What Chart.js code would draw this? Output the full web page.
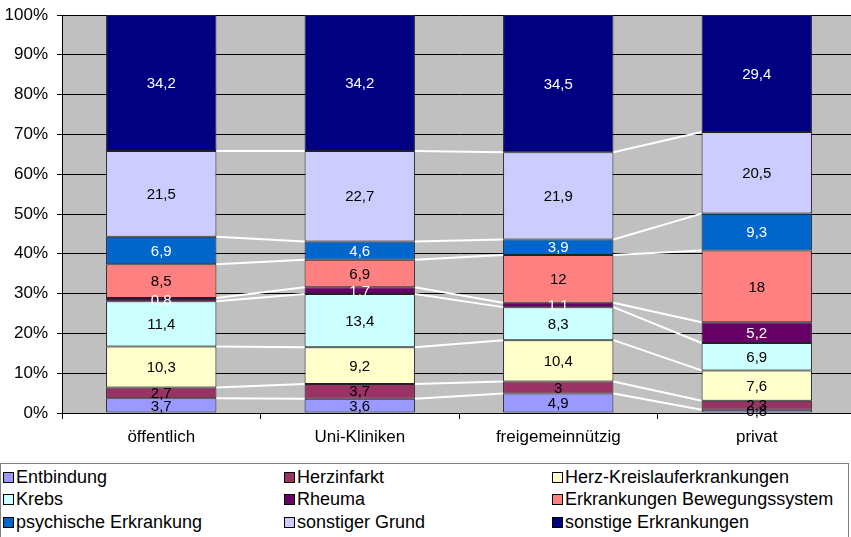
<!DOCTYPE html>
<html>
<head>
<meta charset="utf-8">
<script src="https://cdn.jsdelivr.net/npm/chart.js@4/dist/chart.umd.min.js"></script>
<style>
  html, body { margin: 0; padding: 0; background: #fff; overflow: hidden; width: 851px; height: 537px; }
  #wrap { position: absolute; left: 0; top: 0; width: 856px; height: 463px; }
  #legend { position: absolute; left: 0; top: 463px; width: 847px; height: 80px; border: 1px solid #808080;
            font-family: "Liberation Sans", Arial, sans-serif; font-size: 18px; color: #000; }
  .item { position: absolute; white-space: nowrap; line-height: 20px; height: 20px; }
  .sw { position: absolute; width: 9px; height: 9px; border: 1px solid #000; top: 5px; left: 0; }
  .tx { position: absolute; left: 13px; top: 0; }
</style>
</head>
<body>
<div id="wrap"><canvas id="c" width="856" height="463"></canvas></div>
<div id="legend"></div>
<script>
// ---- data ----
const categories = ["öffentlich", "Uni-Kliniken", "freigemeinnützig", "privat"];
const seriesNames = ["Entbindung", "Herzinfarkt", "Herz-Kreislauferkrankungen", "Krebs", "Rheuma",
  "Erkrankungen Bewegungssystem", "psychische Erkrankung", "sonstiger Grund", "sonstige Erkrankungen"];
const entbindung = [3.7, 3.6, 4.9, 0.8];
const herzinfarkt = [2.7, 3.7, 3.0, 2.3];
const herzKreislauf = [10.3, 9.2, 10.4, 7.6];
const krebs = [11.4, 13.4, 8.3, 6.9];
const rheuma = [0.8, 1.7, 1.1, 5.2];
const bewegungssystem = [8.5, 6.9, 12.0, 18.0];
const psychisch = [6.9, 4.6, 3.9, 9.3];
const sonstigerGrund = [21.5, 22.7, 21.9, 20.5];
const sonstigeErkrankungen = [34.2, 34.2, 34.5, 29.4];
const yTicks = ["0%", "10%", "20%", "30%", "40%", "50%", "60%", "70%", "80%", "90%", "100%"];

// ---- styles ----
const colors = ["#9999FF", "#993366", "#FFFFCC", "#CCFFFF", "#660066", "#FF8080", "#0066CC", "#CCCCFF", "#000080"];
const labelColors = ["#000", "#000", "#000", "#000", "#fff", "#000", "#fff", "#000", "#fff"];
const FONT = '"Liberation Sans", Arial, sans-serif';

const seriesValues = [entbindung, herzinfarkt, herzKreislauf, krebs, rheuma, bewegungssystem, psychisch, sonstigerGrund, sonstigeErkrankungen];

const datasets = seriesNames.map((name, i) => ({
  label: name,
  data: seriesValues[i],
  backgroundColor: colors[i],
  borderColor: "#222",
  borderWidth: 1,
  borderSkipped: false,
  barPercentage: 0.556,
  categoryPercentage: 1.0
}));

const plotBg = {
  id: "plotBg",
  beforeDraw(chart) {
    const a = chart.chartArea, ctx = chart.ctx;
    ctx.save();
    ctx.fillStyle = "#C0C0C0";
    ctx.fillRect(a.left, a.top, a.right - a.left, a.bottom - a.top);
    ctx.restore();
  }
};

const seriesLines = {
  id: "seriesLines",
  afterDatasetsDraw(chart) {
    const ctx = chart.ctx;
    ctx.save();
    ctx.strokeStyle = "#fff";
    ctx.lineWidth = 2;
    for (let d = 0; d < chart.data.datasets.length - 1; d++) {
      const meta = chart.getDatasetMeta(d);
      for (let i = 0; i < meta.data.length - 1; i++) {
        const a = meta.data[i], b = meta.data[i + 1];
        ctx.beginPath();
        ctx.moveTo(a.x + a.width / 2, a.y);
        ctx.lineTo(b.x - b.width / 2, b.y);
        ctx.stroke();
      }
    }
    ctx.restore();
  }
};

const dataLabels = {
  id: "dataLabels",
  afterDatasetsDraw(chart) {
    const ctx = chart.ctx;
    ctx.save();
    ctx.font = "15px " + FONT;
    ctx.textAlign = "center";
    ctx.textBaseline = "middle";
    chart.data.datasets.forEach((ds, d) => {
      const meta = chart.getDatasetMeta(d);
      meta.data.forEach((el, i) => {
        const v = ds.data[i];
        ctx.fillStyle = labelColors[d];
        ctx.fillText(String(v).replace(".", ","), el.x, (el.y + el.base) / 2 + 1);
      });
    });
    ctx.restore();
  }
};

new Chart(document.getElementById("c"), {
  type: "bar",
  data: { labels: categories, datasets },
  options: {
    responsive: false,
    animation: false,
    devicePixelRatio: 1,
    layout: { padding: { top: 15, left: 0, right: 0, bottom: 0 } },
    plugins: { legend: { display: false }, tooltip: { enabled: false } },
    scales: {
      x: {
        stacked: true,
        grid: { display: true, drawOnChartArea: false, drawTicks: true, tickLength: 6, color: "#000", offset: true },
        border: { display: true, color: "#000", width: 1 },
        ticks: { color: "#000", font: { family: FONT, size: 17 }, padding: 8, maxRotation: 0 },
        afterFit(s) { s.height = 50; s.paddingLeft = 0; s.paddingRight = 0; }
      },
      y: {
        stacked: true,
        min: 0, max: 100,
        grid: { color: "#000", lineWidth: 1, tickLength: 5, drawTicks: true },
        border: { display: true, color: "#000", width: 1 },
        ticks: { stepSize: 10, color: "#000", font: { family: FONT, size: 17 }, padding: 9,
                 callback: (v) => yTicks[Math.round(v / 10)] },
        afterFit(s) { s.width = 62; s.paddingTop = 0; s.paddingBottom = 0; }
      }
    }
  },
  plugins: [plotBg, seriesLines, dataLabels]
});

// ---- legend (HTML) ----
const legendCols = [2, 283, 551];
const legendRows = [3, 25, 48];
const leg = document.getElementById("legend");
seriesNames.forEach((name, i) => {
  const it = document.createElement("div");
  it.className = "item";
  it.style.left = legendCols[i % 3] + "px";
  it.style.top = legendRows[Math.floor(i / 3)] + "px";
  const sw = document.createElement("div");
  sw.className = "sw";
  sw.style.background = colors[i];
  const tx = document.createElement("span");
  tx.className = "tx";
  tx.textContent = name;
  it.appendChild(sw);
  it.appendChild(tx);
  leg.appendChild(it);
});
</script>
</body>
</html>
